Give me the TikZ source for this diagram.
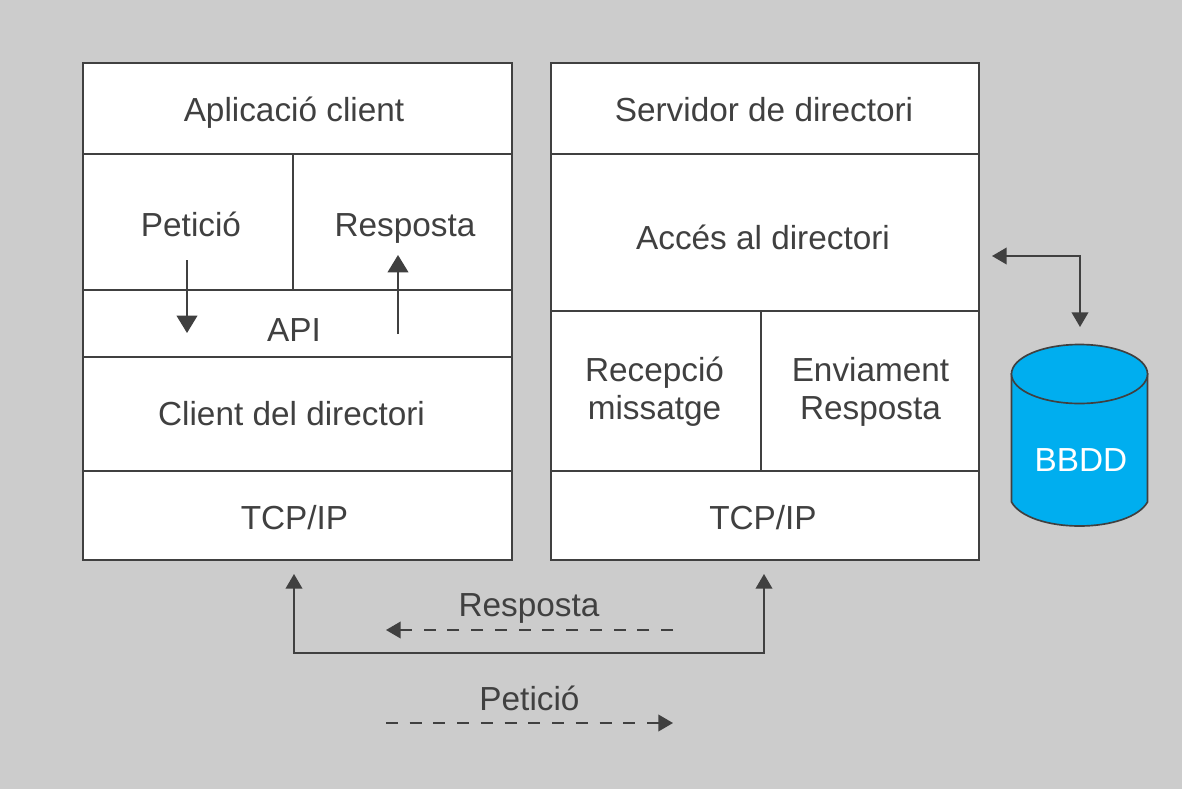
\documentclass[tikz,border=0pt]{standalone}
\usepackage{fontspec}
\setmainfont{Liberation Sans}
\usetikzlibrary{arrows.meta,positioning,shapes.geometric}
\definecolor{fons}{HTML}{CCCCCC}
\definecolor{linia}{HTML}{404040}
\definecolor{blau}{HTML}{00AEEF}
\tikzset{
  caixa/.style={draw=linia,fill=white,line width=1.25pt,inner sep=0pt,outer sep=0pt,minimum width=#1},
  rotul/.style={text=linia,inner sep=0pt,anchor=base,align=center},
  fletxa/.style={draw=linia,line width=1.25pt,-{Triangle[length=11pt,width=12.5pt]}},
  gran/.style={draw=linia,line width=1.25pt,-{Triangle[length=13pt,width=15.5pt]}},
  doble/.style={draw=linia,line width=1.25pt,{Triangle[length=11pt,width=12.5pt]}-{Triangle[length=11pt,width=12.5pt]}},
  discont/.style={fletxa,dash pattern=on 9pt off 8.8pt}
}
\begin{document}
\begin{tikzpicture}[x=0.75pt,y=-0.75pt,font=\fontsize{25}{28.7}\selectfont]
  \useasboundingbox (0,0) rectangle (1182,789);
  \fill[fons] (0,0) rectangle (1182,789);
  % client
  \node[caixa=321.75pt,minimum height=68.25pt,anchor=north west] (aplicacio) at (83,63) {};
  \node[caixa=157.5pt,minimum height=102pt] (peticio) [below=0pt of aplicacio.south west,anchor=north west] {};
  \node[caixa=164.25pt,minimum height=102pt] (resposta) [right=0pt of peticio] {};
  \node[caixa=321.75pt,minimum height=50.25pt] (api) [below=0pt of peticio.south west,anchor=north west] {};
  \node[caixa=321.75pt,minimum height=85.5pt] (clientdir) [below=0pt of api] {};
  \node[caixa=321.75pt,minimum height=66.75pt] (tcpclient) [below=0pt of clientdir] {};
  \node[rotul] (taplicacio) at (294,121.7) {Aplicació client};
  \node[rotul] (tpeticio) at (191,236) {Petició};
  \node[rotul] (tresposta) at (405,236) {Resposta};
  \node[rotul] (tapi) at (294,341.7) {API};
  \node[rotul] (tclientdir) at (291.5,425) {Client del directori};
  \node[rotul] (ttcpclient) at (294.5,529) {TCP/IP};
  % servidor
  \node[caixa=321pt,minimum height=68.25pt,anchor=north west] (servidor) at (551,63) {};
  \node[caixa=321pt,minimum height=117.75pt] (acces) [below=0pt of servidor] {};
  \node[caixa=157.5pt,minimum height=120pt] (recepcio) [below=0pt of acces.south west,anchor=north west] {};
  \node[caixa=163.5pt,minimum height=120pt] (enviament) [right=0pt of recepcio] {};
  \node[caixa=321pt,minimum height=66.75pt] (tcpserv) [below=0pt of recepcio.south west,anchor=north west] {};
  \node[rotul] (tservidor) at (764,121.7) {Servidor de directori};
  \node[rotul] (tacces) at (763,249.3) {Accés al directori};
  \node[rotul,anchor=center] (trecepcio) at (654.5,392) {Recepció\\missatge};
  \node[rotul,anchor=center] (tenviament) at (870.5,392) {Enviament\\Resposta};
  \node[rotul] (ttcpserv) at (763,529.5) {TCP/IP};
  % base de dades
  \coordinate (cilesq) at (1011.5,374);
  \coordinate (cildre) at (1147.5,374);
  \draw[linia,fill=blau,line width=1.25pt] (cilesq) -- (1011.5,502) .. controls (1020,517) and (1048,526) .. (1079.5,526)
    .. controls (1111,526) and (1139,517) .. (1147.5,502) -- (cildre) -- cycle;
  \node[ellipse,draw=linia,fill=blau,line width=1.25pt,inner sep=0pt,outer sep=0pt,
    minimum width=102pt,minimum height=44.25pt] (tapa) at (1079.5,374) {};
  \node[rotul,text=white] (bbdd) at (1081,471) {BBDD};
  % fletxes
  \coordinate (a1) at (187,260);
  \coordinate (a2) at (187,333);
  \coordinate (b1) at (398,334);
  \coordinate (b2) at (398,255);
  \draw[gran] (a1) -- (a2);
  \draw[gran] (b1) -- (b2);
  \coordinate (c1) at (992,256);
  \coordinate (c2) at (1080,327);
  \draw[doble] (c1) -| (c2);
  \coordinate (d1) at (294,574);
  \coordinate (d2) at (294,653);
  \coordinate (d3) at (764,653);
  \coordinate (d4) at (764,574);
  \draw[doble] (d1) -- (d2) -- (d3) -- (d4);
  \node[rotul] (lresposta) at (529,616) {Resposta};
  \node[rotul] (lpeticio) at (529.5,710) {Petició};
  \coordinate (e1) at (673,630);
  \coordinate (e2) at (386,630);
  \coordinate (f1) at (386,723);
  \coordinate (f2) at (673,723);
  \draw[discont] (e1) -- (e2);
  \draw[discont] (f1) -- (f2);
\end{tikzpicture}
\end{document}
